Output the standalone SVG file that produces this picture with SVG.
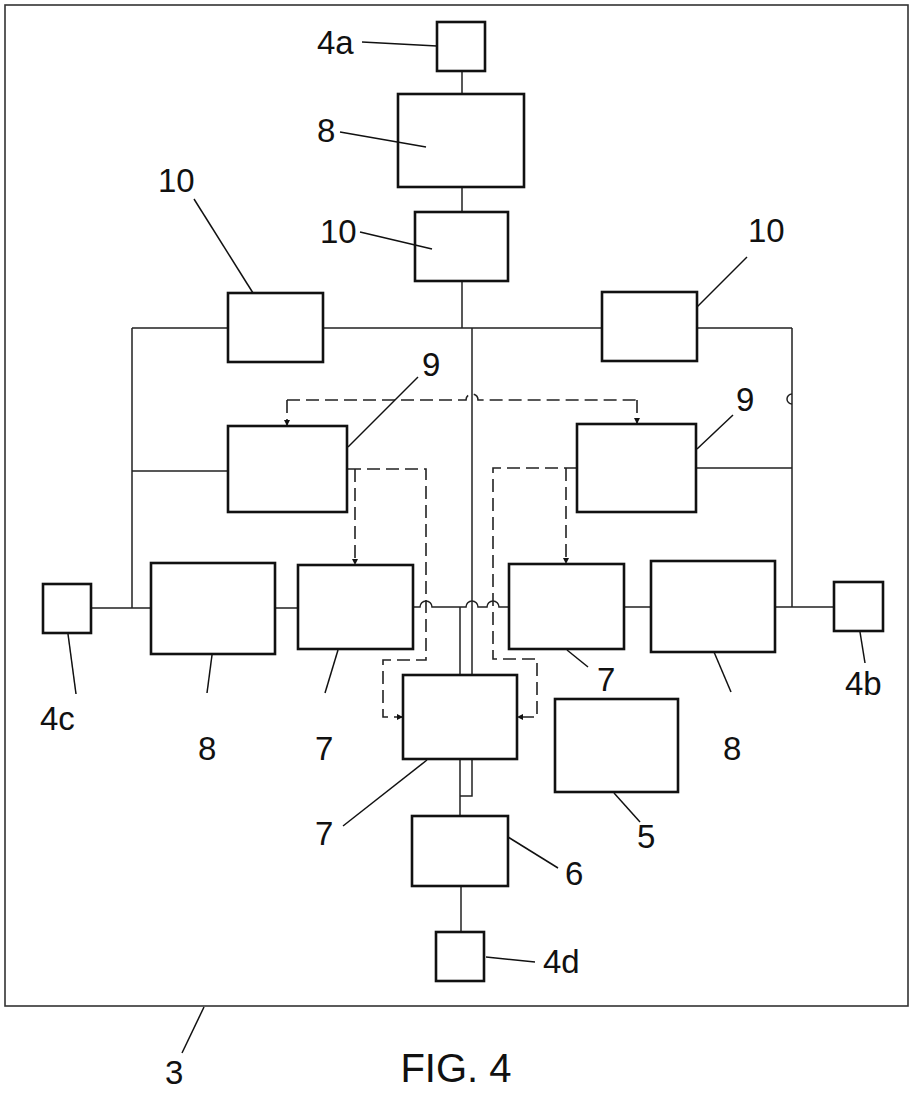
<svg xmlns="http://www.w3.org/2000/svg" width="910" height="1095" viewBox="0 0 910 1095">
<style>
.box{fill:#fff;stroke:#111;stroke-width:2.6}
.ln{fill:none;stroke:#222;stroke-width:1.5}
.ld{fill:none;stroke:#111;stroke-width:1.5}
.dash{fill:none;stroke:#222;stroke-width:1.6;stroke-dasharray:13 6}
.t{font-family:"Liberation Sans",Arial,sans-serif;font-size:33px;fill:#111}
</style>
<defs>
<marker id="ar" viewBox="0 0 10 10" refX="10" refY="5" markerWidth="6" markerHeight="6" orient="auto" markerUnits="userSpaceOnUse">
<path d="M0,0 L10,5 L0,10 z" fill="#111"/>
</marker>
</defs>
<rect x="5" y="5" width="903" height="1001" fill="none" stroke="#333" stroke-width="1.6"/>
<g id="connectors">
<path class="ln" d="M462,71 V94 M462,187 V212 M462,281 V328"/>
<path class="ln" d="M132,328 H228 M323,328 H602 M697,328 H792"/>
<path class="ln" d="M132,328 V608 M792,328 V607"/>
<path class="ln" d="M132,471 H228 M696,468 H792"/>
<path class="ln" d="M472,328 V675"/>
<path class="ln" d="M91,608 H151 M275,608 H298"/>
<path class="ln" d="M413,607 H420 a6,6 0 0 1 12,0 H466 a6,6 0 0 1 12,0 H487 a6,6 0 0 1 12,0 H509"/>
<path class="ln" d="M460,607 V675"/>
<path class="ln" d="M624,607 H651 M775,607 H834"/>
<path class="ln" d="M460,759 V816 M472,759 V796 H460"/>
<path class="ln" d="M461,886 V932"/>
<path class="ln" d="M792,394 a5,5 0 0 0 0,10"/>
<path class="dash" d="M287,400 H466 a6,6 0 0 1 12,0 H637"/>
<path class="dash" d="M287,400 V426" marker-end="url(#ar)"/>
<path class="dash" d="M637,400 V424" marker-end="url(#ar)"/>
<path class="dash" d="M348,469 H426 V660 H383 V717 H403" marker-end="url(#ar)"/>
<path class="dash" d="M355,469 V565" marker-end="url(#ar)"/>
<path class="dash" d="M577,468 H493 V659 H537 V717 H517" marker-end="url(#ar)"/>
<path class="dash" d="M566,468 V564" marker-end="url(#ar)"/>
</g>
<g id="n4a"><rect class="box" x="437" y="22" width="48" height="49"/><line class="ld" x1="362" y1="42" x2="437" y2="46"/><text class="t" x="317" y="54">4a</text></g>
<g id="n8top"><rect class="box" x="398" y="94" width="126" height="93"/><line class="ld" x1="340" y1="132" x2="426" y2="147"/><text class="t" x="317" y="142">8</text></g>
<g id="n10top"><rect class="box" x="415" y="212" width="93" height="69"/><line class="ld" x1="360" y1="232" x2="432" y2="249"/><text class="t" x="320" y="243">10</text></g>
<g id="n10left"><rect class="box" x="228" y="293" width="95" height="69"/><line class="ld" x1="194" y1="199" x2="253" y2="293"/><text class="t" x="158" y="192">10</text></g>
<g id="n10right"><rect class="box" x="602" y="292" width="95" height="69"/><line class="ld" x1="697" y1="307" x2="747" y2="257"/><text class="t" x="748" y="242">10</text></g>
<g id="n9left"><rect class="box" x="228" y="426" width="119" height="86"/><line class="ld" x1="348" y1="447" x2="418" y2="377"/><text class="t" x="422" y="376">9</text></g>
<g id="n9right"><rect class="box" x="577" y="424" width="119" height="88"/><line class="ld" x1="697" y1="449" x2="733" y2="415"/><text class="t" x="736" y="411">9</text></g>
<g id="n4c"><rect class="box" x="43" y="584" width="48" height="49"/><line class="ld" x1="68" y1="634" x2="76" y2="694"/><text class="t" x="40" y="730">4c</text></g>
<g id="n8left"><rect class="box" x="151" y="563" width="124" height="91"/><line class="ld" x1="212" y1="655" x2="207" y2="693"/><text class="t" x="198" y="760">8</text></g>
<g id="n7left"><rect class="box" x="298" y="565" width="115" height="84"/><line class="ld" x1="338" y1="650" x2="325" y2="693"/><text class="t" x="315" y="760">7</text></g>
<g id="n7right"><rect class="box" x="509" y="564" width="115" height="85"/><line class="ld" x1="567" y1="650" x2="588" y2="667"/><text class="t" x="597" y="691">7</text></g>
<g id="n8right"><rect class="box" x="651" y="561" width="124" height="91"/><line class="ld" x1="714" y1="652" x2="731" y2="692"/><text class="t" x="723" y="760">8</text></g>
<g id="n4b"><rect class="box" x="834" y="582" width="49" height="49"/><line class="ld" x1="860" y1="632" x2="865" y2="663"/><text class="t" x="845" y="695">4b</text></g>
<g id="n7bottom"><rect class="box" x="403" y="675" width="114" height="84"/><line class="ld" x1="427" y1="760" x2="343" y2="826"/><text class="t" x="315" y="845">7</text></g>
<g id="n5"><rect class="box" x="555" y="699" width="123" height="93"/><line class="ld" x1="614" y1="793" x2="640" y2="822"/><text class="t" x="637" y="848">5</text></g>
<g id="n6"><rect class="box" x="412" y="816" width="96" height="70"/><line class="ld" x1="508" y1="837" x2="558" y2="868"/><text class="t" x="565" y="885">6</text></g>
<g id="n4d"><rect class="box" x="436" y="932" width="48" height="49"/><line class="ld" x1="486" y1="957" x2="535" y2="962"/><text class="t" x="543" y="973">4d</text></g>
<g id="n3"><line class="ld" x1="204" y1="1007" x2="182" y2="1053"/><text class="t" x="165" y="1084">3</text></g>
<text x="456" y="1082" text-anchor="middle" font-family="'Liberation Sans',Arial,sans-serif" font-size="40" fill="#111">FIG. 4</text>
</svg>
